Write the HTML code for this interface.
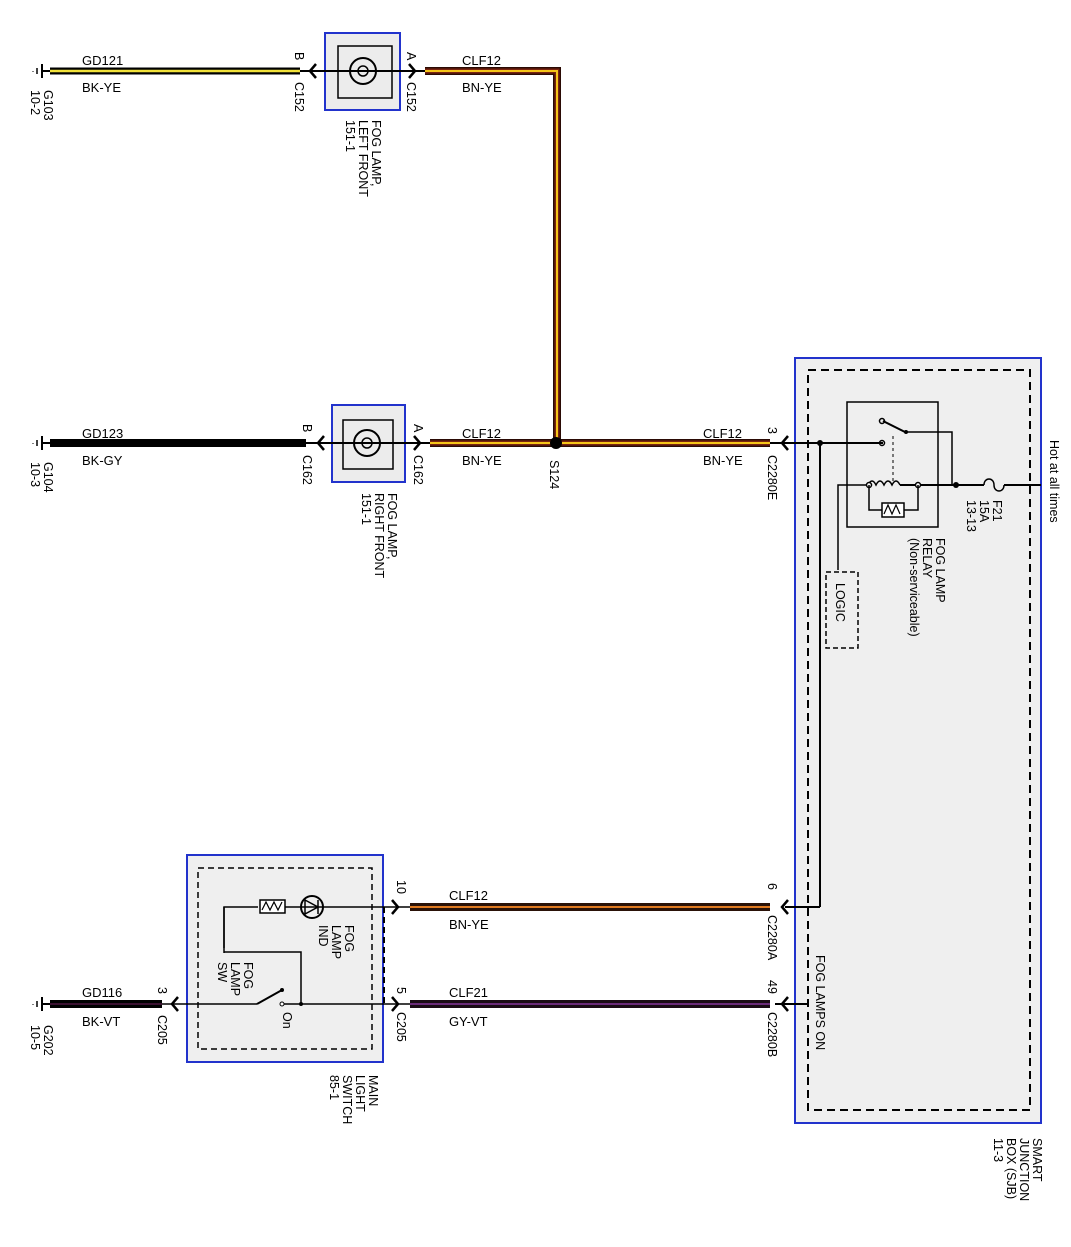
<!DOCTYPE html>
<html><head><meta charset="utf-8"><style>
html,body{margin:0;padding:0;background:#fff;}
svg{display:block;font-family:"Liberation Sans",Arial,sans-serif;font-size:13px;}
</style></head><body>
<svg width="1071" height="1247" viewBox="0 0 1071 1247" xmlns="http://www.w3.org/2000/svg">
<defs>
<g id="gnd"><line x1="0" y1="-7" x2="0" y2="7" stroke="#000" stroke-width="2"/><line x1="-5" y1="-3" x2="-5" y2="3" stroke="#000" stroke-width="1.5"/><line x1="-9" y1="0" x2="-9" y2="0.5" stroke="#000" stroke-width="2"/></g>
<path id="chL" d="M6,-7 L0,0 L6,7" fill="none" stroke="#000" stroke-width="2.5"/>
<path id="chR" d="M-6,-7 L0,0 L-6,7" fill="none" stroke="#000" stroke-width="2.5"/>
</defs>

<!-- Row 1 y=71 -->
<use href="#gnd" x="42" y="71"/>
<line x1="42" y1="71" x2="50" y2="71" stroke="#000" stroke-width="2"/>
<line x1="50" y1="71" x2="300" y2="71" stroke="#000" stroke-width="7"/>
<line x1="50" y1="71" x2="300" y2="71" stroke="#f2e23a" stroke-width="2.5"/>
<rect x="325" y="33" width="75" height="77" fill="#ececec" stroke="#2233cc" stroke-width="2"/>
<rect x="338" y="46" width="54" height="52" fill="none" stroke="#000" stroke-width="1.5"/>
<circle cx="363" cy="71" r="13" fill="none" stroke="#000" stroke-width="2"/>
<circle cx="363" cy="71" r="5" fill="none" stroke="#000" stroke-width="1.5"/>
<line x1="300" y1="71" x2="425" y2="71" stroke="#000" stroke-width="2"/>
<use href="#chL" x="310" y="71"/><use href="#chR" x="415" y="71"/>
<path d="M425,71 L557,71 L557,443" fill="none" stroke="#2a0a04" stroke-width="8"/>
<path d="M425,71 L557,71 L557,443" fill="none" stroke="#7a2410" stroke-width="5"/>
<path d="M425,71 L557,71 L557,443" fill="none" stroke="#f5c518" stroke-width="2"/>
<text x="82" y="65">GD121</text><text x="82" y="92">BK-YE</text>
<text x="462" y="65">CLF12</text><text x="462" y="92">BN-YE</text>

<!-- Row 2 y=443 -->
<use href="#gnd" x="42" y="443"/>
<line x1="42" y1="443" x2="50" y2="443" stroke="#000" stroke-width="2"/>
<line x1="50" y1="443" x2="306" y2="443" stroke="#000" stroke-width="8"/>
<rect x="332" y="405" width="73" height="77" fill="#ececec" stroke="#2233cc" stroke-width="2"/>
<rect x="343" y="420" width="50" height="49" fill="none" stroke="#000" stroke-width="1.5"/>
<circle cx="367" cy="443" r="13" fill="none" stroke="#000" stroke-width="2"/>
<circle cx="367" cy="443" r="5" fill="none" stroke="#000" stroke-width="1.5"/>
<line x1="306" y1="443" x2="432" y2="443" stroke="#000" stroke-width="2"/>
<use href="#chL" x="318" y="443"/><use href="#chR" x="420" y="443"/>
<line x1="430" y1="443" x2="770" y2="443" stroke="#2a0a04" stroke-width="8"/>
<line x1="430" y1="443" x2="770" y2="443" stroke="#7a2410" stroke-width="5"/>
<line x1="430" y1="443" x2="770" y2="443" stroke="#f5c518" stroke-width="2"/>
<circle cx="556" cy="443" r="6" fill="#000"/>
<text x="82" y="438">GD123</text><text x="82" y="465">BK-GY</text>
<text x="462" y="438">CLF12</text><text x="462" y="465">BN-YE</text>
<text x="703" y="438">CLF12</text><text x="703" y="465">BN-YE</text>

<!-- SJB -->
<rect x="795" y="358" width="246" height="765" fill="#efefef" stroke="#2233cc" stroke-width="2"/>
<rect x="808" y="370" width="222" height="740" fill="none" stroke="#000" stroke-width="2" stroke-dasharray="8,5"/>
<line x1="770" y1="443" x2="883" y2="443" stroke="#000" stroke-width="2"/>
<use href="#chL" x="782" y="443"/>
<circle cx="820" cy="443" r="3" fill="#000"/>
<line x1="820" y1="443" x2="820" y2="907" stroke="#000" stroke-width="2"/>
<line x1="785" y1="907" x2="820" y2="907" stroke="#000" stroke-width="2"/>
<rect x="847" y="402" width="91" height="125" fill="none" stroke="#000" stroke-width="1.5"/>
<circle cx="882" cy="421" r="2.5" fill="none" stroke="#000" stroke-width="1.5"/>
<circle cx="882" cy="443" r="2.5" fill="none" stroke="#000" stroke-width="1.5"/>
<line x1="883" y1="421" x2="905" y2="432" stroke="#000" stroke-width="2"/>
<circle cx="906" cy="432" r="2" fill="#000"/>
<path d="M906,432 L952,432 L952,485" fill="none" stroke="#000" stroke-width="1.5"/>
<line x1="893" y1="436" x2="893" y2="482" stroke="#000" stroke-width="1" stroke-dasharray="3,3"/>
<path d="M838,570 L838,485 L868,485" fill="none" stroke="#000" stroke-width="1.5"/>
<path d="M868,485 q4,-8 8,0 q4,-8 8,0 q4,-8 8,0 q4,-8 8,0" fill="none" stroke="#000" stroke-width="1.5"/>
<line x1="900" y1="485" x2="984" y2="485" stroke="#000" stroke-width="2"/>
<circle cx="869" cy="485" r="2.5" fill="#fff" stroke="#000" stroke-width="1.5"/>
<circle cx="918" cy="485" r="2.5" fill="#fff" stroke="#000" stroke-width="1.5"/>
<circle cx="956" cy="485" r="3" fill="#000"/>
<path d="M869,485 L869,510 L918,510 L918,485" fill="none" stroke="#000" stroke-width="1.5"/>
<rect x="882" y="503" width="22" height="14" fill="#fff" stroke="#000" stroke-width="1.5"/>
<path d="M884,514 l4,-9 l4,9 l4,-9 l4,9" fill="none" stroke="#000" stroke-width="1.2"/>
<path d="M984,485 c0,-8 10,-8 10,0 c0,8 10,8 10,0" fill="none" stroke="#000" stroke-width="1.5"/>
<line x1="1004" y1="485" x2="1041" y2="485" stroke="#000" stroke-width="2"/>
<rect x="826" y="572" width="32" height="76" fill="none" stroke="#000" stroke-width="1.5" stroke-dasharray="5,3"/>

<!-- Switch box -->
<rect x="187" y="855" width="196" height="207" fill="#efefef" stroke="#2233cc" stroke-width="2"/>
<rect x="198" y="868" width="174" height="181" fill="none" stroke="#000" stroke-width="1.5" stroke-dasharray="6,4"/>
<line x1="384" y1="907" x2="384" y2="1004" stroke="#000" stroke-width="2" stroke-dasharray="6,4"/>
<path d="M224,948 L224,907 L258,907" fill="none" stroke="#000" stroke-width="1.5"/>
<rect x="260" y="900" width="25" height="13" fill="#fff" stroke="#000" stroke-width="1.5"/>
<path d="M262,910 l4,-8 l4,8 l4,-8 l4,8 l4,-8" fill="none" stroke="#000" stroke-width="1.2"/>
<line x1="285" y1="907" x2="410" y2="907" stroke="#000" stroke-width="1.5"/>
<circle cx="312" cy="907" r="11" fill="none" stroke="#000" stroke-width="2"/>
<path d="M305,900 L318,907 L305,914 Z M318,900 L318,914" fill="none" stroke="#000" stroke-width="1.5"/>
<path d="M224,952 L224,952 L301,952 L301,1004" fill="none" stroke="#000" stroke-width="1.5"/>
<line x1="224" y1="907" x2="224" y2="953" stroke="#000" stroke-width="1.5"/>
<line x1="175" y1="1004" x2="257" y2="1004" stroke="#000" stroke-width="1.5"/>
<line x1="257" y1="1004" x2="282" y2="990" stroke="#000" stroke-width="2"/>
<circle cx="282" cy="990" r="2" fill="#000"/>
<circle cx="282" cy="1004" r="2" fill="#fff" stroke="#000"/>
<line x1="284" y1="1004" x2="410" y2="1004" stroke="#000" stroke-width="1.5"/>
<circle cx="301" cy="1004" r="2" fill="#000"/>
<use href="#chL" x="172" y="1004"/>
<use href="#chR" x="398" y="907"/><use href="#chR" x="398" y="1004"/>

<!-- Row 3/4 wires -->
<line x1="410" y1="907" x2="770" y2="907" stroke="#2a1208" stroke-width="8"/>
<line x1="410" y1="907" x2="770" y2="907" stroke="#e07a20" stroke-width="2"/>
<use href="#chL" x="782" y="907"/>
<line x1="410" y1="1004" x2="770" y2="1004" stroke="#1a0a14" stroke-width="8"/>
<line x1="410" y1="1004" x2="770" y2="1004" stroke="#6a2a78" stroke-width="2"/>
<line x1="775" y1="1004" x2="808" y2="1004" stroke="#000" stroke-width="2"/>
<use href="#chL" x="782" y="1004"/>
<use href="#gnd" x="42" y="1004"/>
<line x1="42" y1="1004" x2="50" y2="1004" stroke="#000" stroke-width="2"/>
<line x1="50" y1="1004" x2="162" y2="1004" stroke="#000" stroke-width="8"/>
<line x1="50" y1="1004" x2="162" y2="1004" stroke="#3a1030" stroke-width="2"/>
<line x1="162" y1="1004" x2="175" y2="1004" stroke="#000" stroke-width="1.5"/>
<text x="82" y="997">GD116</text><text x="82" y="1026">BK-VT</text>
<text x="449" y="900">CLF12</text><text x="449" y="929">BN-YE</text>
<text x="449" y="997">CLF21</text><text x="449" y="1026">GY-VT</text>

<!-- Rotated labels -->
<g font-size="12.5">
<text transform="translate(44,90) rotate(90)">G103</text>
<text transform="translate(31,90) rotate(90)">10-2</text>
<text transform="translate(295,52) rotate(90)">B</text>
<text transform="translate(295,82) rotate(90)">C152</text>
<text transform="translate(407,52) rotate(90)">A</text>
<text transform="translate(407,82) rotate(90)">C152</text>
<text transform="translate(372,120) rotate(90)">FOG LAMP,</text>
<text transform="translate(359,120) rotate(90)">LEFT FRONT</text>
<text transform="translate(346,120) rotate(90)">151-1</text>

<text transform="translate(44,462) rotate(90)">G104</text>
<text transform="translate(31,462) rotate(90)">10-3</text>
<text transform="translate(303,424) rotate(90)">B</text>
<text transform="translate(303,455) rotate(90)">C162</text>
<text transform="translate(414,424) rotate(90)">A</text>
<text transform="translate(414,455) rotate(90)">C162</text>
<text transform="translate(388,493) rotate(90)">FOG LAMP,</text>
<text transform="translate(375,493) rotate(90)">RIGHT FRONT</text>
<text transform="translate(362,493) rotate(90)">151-1</text>
<text transform="translate(550,460) rotate(90)">S124</text>
<text transform="translate(768,427) rotate(90)">3</text>
<text transform="translate(768,455) rotate(90)">C2280E</text>

<text transform="translate(1050,440) rotate(90)">Hot at all times</text>
<text transform="translate(993,500) rotate(90)">F21</text>
<text transform="translate(980,500) rotate(90)">15A</text>
<text transform="translate(967,500) rotate(90)">13-13</text>
<text transform="translate(936,538) rotate(90)">FOG LAMP</text>
<text transform="translate(923,538) rotate(90)">RELAY</text>
<text transform="translate(910,538) rotate(90)">(Non-serviceable)</text>
<text transform="translate(836,583) rotate(90)">LOGIC</text>

<text transform="translate(768,883) rotate(90)">6</text>
<text transform="translate(768,915) rotate(90)">C2280A</text>
<text transform="translate(768,980) rotate(90)">49</text>
<text transform="translate(768,1012) rotate(90)">C2280B</text>
<text transform="translate(816,955) rotate(90)">FOG LAMPS ON</text>
<text transform="translate(1033,1138) rotate(90)">SMART</text>
<text transform="translate(1020,1138) rotate(90)">JUNCTION</text>
<text transform="translate(1007,1138) rotate(90)">BOX (SJB)</text>
<text transform="translate(994,1138) rotate(90)">11-3</text>

<text transform="translate(397,880) rotate(90)">10</text>
<text transform="translate(397,987) rotate(90)">5</text>
<text transform="translate(397,1012) rotate(90)">C205</text>
<text transform="translate(158,987) rotate(90)">3</text>
<text transform="translate(158,1015) rotate(90)">C205</text>
<text transform="translate(44,1025) rotate(90)">G202</text>
<text transform="translate(31,1025) rotate(90)">10-5</text>
<text transform="translate(345,925) rotate(90)">FOG</text>
<text transform="translate(332,925) rotate(90)">LAMP</text>
<text transform="translate(319,925) rotate(90)">IND</text>
<text transform="translate(244,962) rotate(90)">FOG</text>
<text transform="translate(231,962) rotate(90)">LAMP</text>
<text transform="translate(218,962) rotate(90)">SW</text>
<text transform="translate(283,1012) rotate(90)">On</text>
<text transform="translate(369,1075) rotate(90)">MAIN</text>
<text transform="translate(356,1075) rotate(90)">LIGHT</text>
<text transform="translate(343,1075) rotate(90)">SWITCH</text>
<text transform="translate(330,1075) rotate(90)">85-1</text>
</g>
</svg>
</body></html>
